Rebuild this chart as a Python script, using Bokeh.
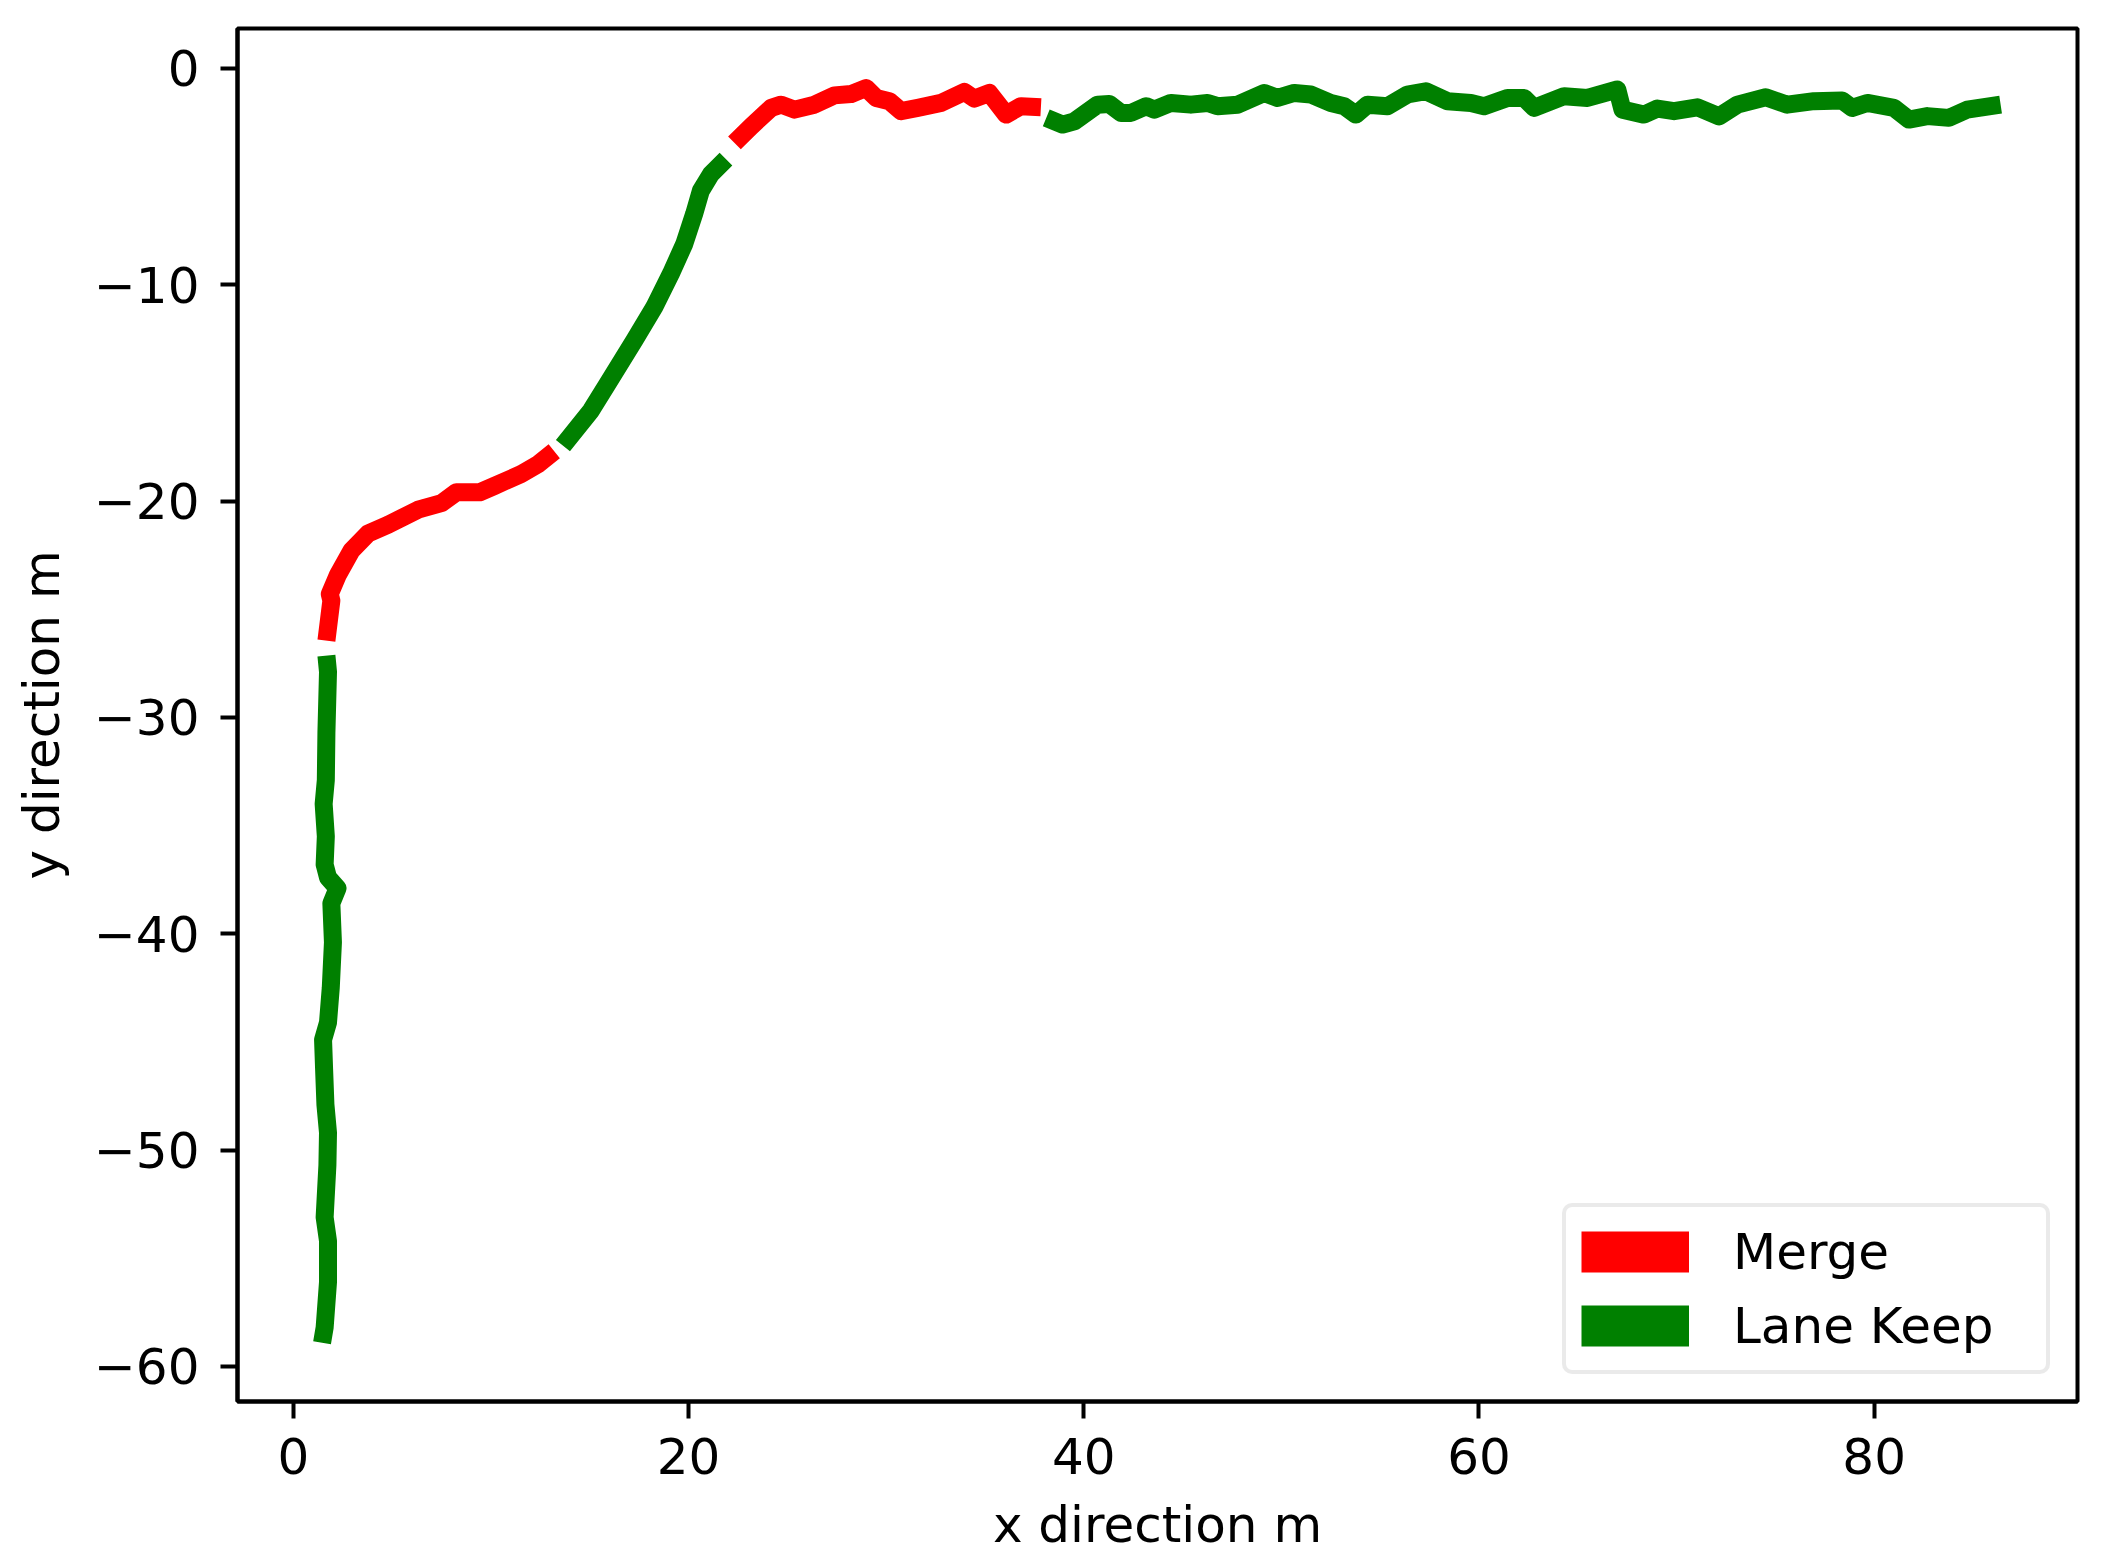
from bokeh.plotting import figure
from bokeh.models import Range1d, FixedTicker, Legend, LegendItem
from bokeh.embed import file_html
from bokeh.resources import INLINE

# ---------------- data ----------------
lk1_x = [1.45, 1.58, 1.75, 1.75, 1.58, 1.72, 1.75, 1.62, 1.55, 1.50, 1.75, 1.89,
         2.0, 1.92, 2.23, 1.75, 1.58, 1.64, 1.53, 1.64, 1.67, 1.75, 1.67]
lk1_y = [-58.9, -58.2, -56.1, -54.2, -53.1, -50.7, -49.2, -47.9, -46.2, -44.9, -44.1, -42.5,
         -40.4, -38.6, -37.9, -37.4, -36.8, -35.5, -34.0, -32.9, -30.7, -27.9, -27.15]

mg1_x = [1.67, 1.92, 1.84, 2.26, 2.93, 3.78, 4.79, 6.31, 7.49, 8.24, 9.42, 10.18,
         11.53, 12.38, 13.2]
mg1_y = [-26.45, -24.6, -24.3, -23.4, -22.3, -21.5, -21.1, -20.4, -20.1, -19.6, -19.6, -19.3,
         -18.75, -18.3, -17.7]

lk2_x = [13.64, 15.06, 15.9, 17.25, 18.26, 19.1, 19.78, 20.28, 20.62, 21.13, 21.89]
lk2_y = [-17.44, -15.82, -14.58, -12.58, -11.04, -9.5, -8.12, -6.73, -5.66, -4.89, -4.2]

mg2_x = [22.32, 23.17, 24.18, 24.68, 25.36, 26.37, 27.38, 28.22, 28.98, 29.49, 30.16,
         30.75, 31.6, 32.78, 33.96, 34.46, 35.22, 36.07, 36.82, 37.83]
mg2_y = [-3.45, -2.68, -1.83, -1.68, -1.91, -1.68, -1.25, -1.19, -0.91, -1.37, -1.52,
         -1.98, -1.83, -1.6, -1.09, -1.4, -1.14, -2.14, -1.75, -1.8]

lk3_x = [38.1, 38.93, 39.52, 40.7, 41.29, 41.88, 42.39, 43.15, 43.57, 44.41, 45.42,
         46.27, 46.77, 47.78, 49.13, 49.81, 50.65, 51.49, 52.5, 53.18, 53.77, 54.36,
         55.37, 56.38, 57.31, 58.41, 59.59, 60.26, 61.44, 62.28, 62.79, 64.31, 65.49,
         67.0, 67.26, 68.35, 69.03, 69.87, 71.05, 72.15, 73.08, 74.51, 75.6, 76.95,
         78.38, 78.89, 79.65, 81.0, 81.76, 82.69, 83.78, 84.71, 86.4]
lk3_y = [-2.29, -2.6, -2.45, -1.68, -1.65, -2.06, -2.06, -1.75, -1.91, -1.6, -1.68,
         -1.6, -1.75, -1.68, -1.14, -1.37, -1.14, -1.21, -1.6, -1.75, -2.14, -1.68,
         -1.75, -1.21, -1.06, -1.52, -1.6, -1.75, -1.37, -1.37, -1.83, -1.29, -1.37,
         -0.98, -1.91, -2.14, -1.86, -1.98, -1.8, -2.22, -1.68, -1.34, -1.68, -1.52,
         -1.49, -1.83, -1.6, -1.83, -2.37, -2.21, -2.29, -1.91, -1.68]

merge_segments = [(mg1_x, mg1_y), (mg2_x, mg2_y)]
keep_segments = [(lk1_x, lk1_y), (lk2_x, lk2_y), (lk3_x, lk3_y)]

x_ticks = [0, 20, 40, 60, 80]
x_tick_labels = ["0", "20", "40", "60", "80"]
y_ticks = [0, -10, -20, -30, -40, -50, -60]
y_tick_labels = ["0", "\u221210", "\u221220", "\u221230", "\u221240", "\u221250", "\u221260"]

x_title = "x direction m"
y_title = "y direction m"
legend_labels = ["Merge", "Lane Keep"]
merge_color = "#ff0000"
keep_color = "#008000"

# ---------------- layout ----------------
FONT = "DejaVu Sans"
FS = 50
W, H = 2100, 1560
FL, FT, FW, FH = 237, 28, 1840, 1373
X0, X1 = -2.83, 90.29
Y0, Y1 = -61.62, 1.84

p = figure(width=W, height=H, output_backend="svg", toolbar_location=None,
           title=None, x_range=Range1d(X0, X1), y_range=Range1d(Y0, Y1),
           min_border_left=FL, min_border_top=FT,
           min_border_right=W - FL - FW, min_border_bottom=H - FT - FH)
p.background_fill_color = "white"
p.border_fill_color = "white"
p.outline_line_color = "black"
p.outline_line_width = 4
p.xgrid.visible = False
p.ygrid.visible = False

for ax in (p.xaxis[0], p.yaxis[0]):
    ax.axis_line_width = 4
    ax.axis_line_color = "black"
    ax.major_tick_out = 17
    ax.major_tick_in = 0
    ax.major_tick_line_width = 4
    ax.minor_tick_out = 0
    ax.minor_tick_in = 0
    ax.major_label_text_font = FONT
    ax.major_label_text_font_size = f"{FS}px"
    ax.major_label_text_color = "black"
    ax.axis_label_text_font = FONT
    ax.axis_label_text_font_size = f"{FS}px"
    ax.axis_label_text_font_style = "normal"
    ax.axis_label_text_color = "black"

p.xaxis.ticker = FixedTicker(ticks=x_ticks)
p.xaxis.major_label_overrides = {t: l for t, l in zip(x_ticks, x_tick_labels)}
p.xaxis.major_label_standoff = 19
p.xaxis.axis_label = x_title
p.xaxis.axis_label_standoff = 19

p.yaxis.ticker = FixedTicker(ticks=y_ticks)
p.yaxis.major_label_overrides = {t: l for t, l in zip(y_ticks, y_tick_labels)}
p.yaxis.major_label_standoff = 21
p.yaxis.axis_label = y_title
p.yaxis.axis_label_standoff = 20

LW = 18
for sx, sy in keep_segments:
    p.line(sx, sy, line_color=keep_color, line_width=LW, line_cap="butt", line_join="round")
for sx, sy in merge_segments:
    p.line(sx, sy, line_color=merge_color, line_width=LW, line_cap="butt", line_join="round")

# legend handles (patch-like swatches); a one-point line draws nothing in the plot
r_m = p.line(mg1_x[:1], mg1_y[:1], line_color=merge_color, line_width=41, line_cap="butt")
r_k = p.line(lk1_x[:1], lk1_y[:1], line_color=keep_color, line_width=41, line_cap="butt")
legend = Legend(items=[LegendItem(label=legend_labels[0], renderers=[r_m]),
                       LegendItem(label=legend_labels[1], renderers=[r_k])],
                location="bottom_right", margin=27, padding=15, spacing=15,
                glyph_width=108, glyph_height=59, label_height=59, label_width=298,
                label_standoff=44,
                label_text_font=FONT, label_text_font_size=f"{FS}px",
                label_text_color="black",
                border_line_color="#d6d6d6", border_line_width=4,
                background_fill_color="white", background_fill_alpha=0.8)
try:
    legend.border_radius = 10
except AttributeError:
    pass
p.add_layout(legend)

open("out.html", "w").write(file_html(p, INLINE))
